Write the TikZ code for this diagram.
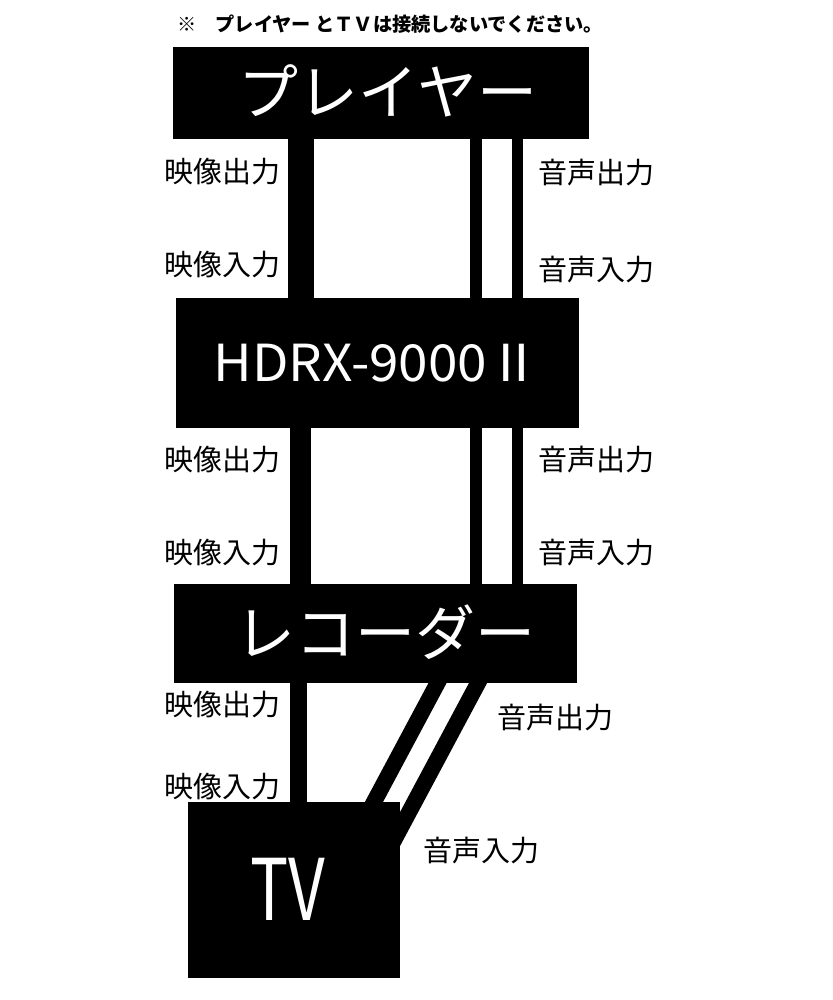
\documentclass[tikz,border=0pt]{standalone}
\usepackage{fontspec}
\setmainfont{Noto Sans CJK JP}
\newfontfamily\jp{Noto Sans CJK JP}
\begin{document}
\begin{tikzpicture}[x=1pt,y=-1pt,
  dev/.style={draw=none,fill=black,text=white,inner sep=0pt,font=\jp},
  lbl/.style={anchor=west,inner sep=0pt,font=\jp\fontsize{29}{31}\selectfont},
  cable/.style={draw=black,line cap=butt}
]
\useasboundingbox (0,0) rectangle (832,1000);
\fill[white] (0,0) rectangle (832,1000);
% devices (coordinates only for centres)
\coordinate (pc) at (381,93);
\coordinate (hc) at (377.5,363);
\coordinate (rc) at (375.5,633.5);
\coordinate (tc) at (294,890);
\path node[dev,minimum width=416pt,minimum height=92pt] (player) at (pc) {};
\path node[dev,minimum width=403pt,minimum height=130pt] (hdrx) at (hc) {};
\path node[dev,minimum width=403pt,minimum height=99pt] (rec) at (rc) {};
\path node[dev,minimum width=212pt,minimum height=176pt] (tv) at (tc) {};
% cables
\draw[cable,line width=26pt] (player.south -| 301,0) -- (hdrx.north -| 301,0);
\draw[cable,line width=12pt] (player.south -| 476,0) -- (hdrx.north -| 476,0);
\draw[cable,line width=11pt] (player.south -| 517.5,0) -- (hdrx.north -| 517.5,0);
\draw[cable,line width=21pt] (hdrx.south -| 300.5,0) -- (rec.north -| 300.5,0);
\draw[cable,line width=12pt] (hdrx.south -| 476,0) -- (rec.north -| 476,0);
\draw[cable,line width=11pt] (hdrx.south -| 517.5,0) -- (rec.north -| 517.5,0);
\draw[cable,line width=17pt] (rec.south -| 298,0) -- (tv.north -| 298,0);
\coordinate (a1) at (441.8,675);
\coordinate (a2) at (367,815);
\coordinate (b1) at (482.3,675);
\coordinate (b2) at (383.5,860);
\draw[cable,line width=16pt] (a1) -- (a2);
\draw[cable,line width=16pt] (b1) -- (b2);
% device labels
\node[dev,fill=none,font=\jp\fontsize{60}{62}\selectfont] (tplayer) at (388,91) {プレイヤー};
\node[dev,fill=none,font=\jp\fontsize{51}{55}\selectfont,xscale=1.04] (thdrx) at (377,363) {HDRX-9000\kern0ptⅡ};
\node[dev,fill=none,font=\jp\fontsize{60}{62}\selectfont] (trec) at (385,632) {レコーダー};
\node[dev,fill=none,font=\jp\fontsize{85}{90}\selectfont,xscale=0.75] (ttv) at (288,889) {TV};
% note
\node[anchor=west,inner sep=0pt,font=\jp\bfseries\fontsize{19.2}{21}\selectfont] (note) at (177,24) {※　プレイヤー とＴＶは接続しないでください。};
% port labels
\node[lbl] (l1) at (164,172) {映像出力};
\node[lbl] (l2) at (164,265) {映像入力};
\node[lbl] (l3) at (164,460) {映像出力};
\node[lbl] (l4) at (164,553) {映像入力};
\node[lbl] (l5) at (164,705) {映像出力};
\node[lbl] (l6) at (164,787) {映像入力};
\node[lbl] (r1) at (538,173) {音声出力};
\node[lbl] (r2) at (538,270) {音声入力};
\node[lbl] (r3) at (538,460) {音声出力};
\node[lbl] (r4) at (538,553) {音声入力};
\node[lbl] (r5) at (497,718) {音声出力};
\node[lbl] (r6) at (423,851) {音声入力};
\end{tikzpicture}
\end{document}
